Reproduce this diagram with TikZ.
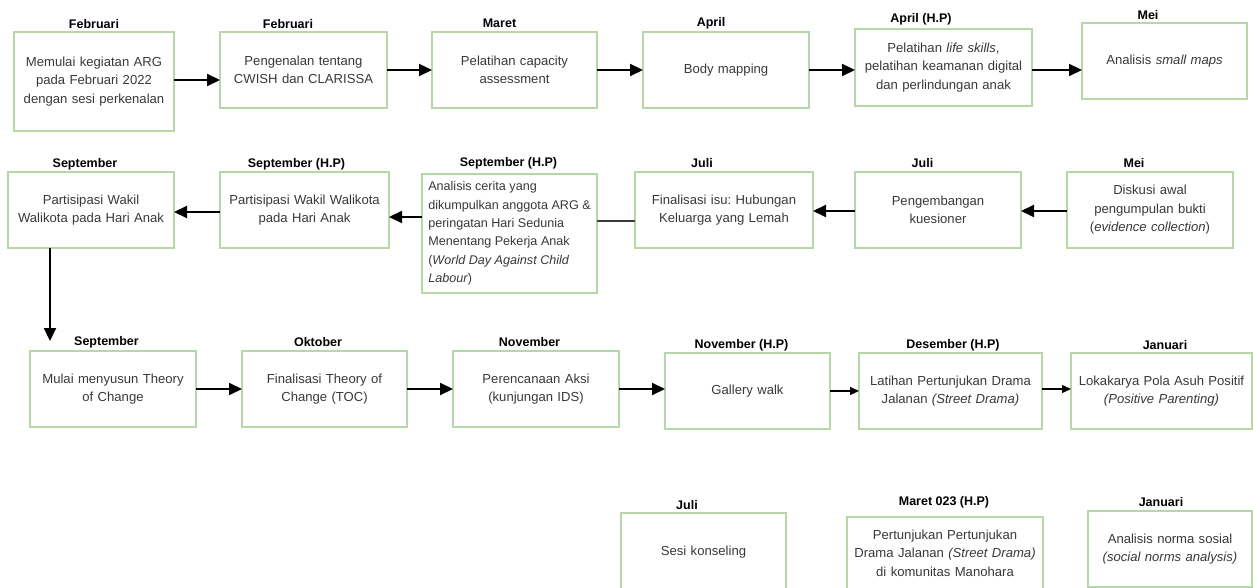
\documentclass[tikz,border=0pt]{standalone}
\usepackage{fontspec}
\setmainfont{Liberation Sans}
\usetikzlibrary{arrows.meta}
\definecolor{boxgreen}{HTML}{B6D7A8}
\definecolor{txtgray}{HTML}{383838}
\tikzset{
  box/.style={draw=boxgreen, line width=1.6pt, inner sep=0pt, outer sep=0pt,
    align=center, text=txtgray, font=\frenchspacing\fontsize{13.1}{18.5}\selectfont},
  lbl/.style={font=\bfseries\fontsize{12.5}{15}\selectfont, text=black, inner sep=0pt},
  arr/.style={-{Triangle[length=13pt,width=12pt]}, line width=2.1pt, draw=black},
  sarr/.style={-{Triangle[length=9pt,width=8pt]}, line width=1.3pt, draw=black},
  plain/.style={line width=1.3pt, draw=txtgray}
}
\begin{document}
\begin{tikzpicture}[x=1pt,y=-1pt]
\useasboundingbox (0,0) rectangle (1253,588);
\clip (0,0) rectangle (1253,588);
% Row 1
\node[box, minimum width=160pt, minimum height=99pt, text width=156pt] (b1) at (94,81.5) {Memulai kegiatan ARG\\pada Februari 2022\\dengan sesi perkenalan};
\node[box, minimum width=167pt, minimum height=76pt, text width=163pt] (b2) at (303.5,70) {Pengenalan tentang\\CWISH dan CLARISSA};
\node[box, minimum width=165pt, minimum height=76pt, text width=161pt] (b3) at (514.5,70) {Pelatihan capacity\\assessment};
\node[box, minimum width=166pt, minimum height=76pt, text width=162pt] (b4) at (726,70) {Body mapping};
\node[box, minimum width=177pt, minimum height=77pt, text width=177pt] (b5) at (943.5,67.5) {Pelatihan \textit{life skills},\\pelatihan keamanan digital\\dan perlindungan anak};
\node[box, minimum width=165pt, minimum height=76pt, text width=161pt] (b6) at (1164.5,61) {Analisis \textit{small maps}};
\node[lbl] (l1) at (94,24) {Februari};
\node[lbl] (l2) at (288,24) {Februari};
\node[lbl] (l3) at (499.5,23) {Maret};
\node[lbl] (l4) at (711,23) {April};
\node[lbl] (l5) at (921,19) {April (H.P)};
\node[lbl] (l6) at (1148,15) {Mei};
\draw[arr] (b1.east |- 0,80) -- (b2.west |- 0,80);
\draw[arr] (b2.east |- 0,70) -- (b3.west |- 0,70);
\draw[arr] (b3.east |- 0,70) -- (b4.west |- 0,70);
\draw[arr] (b4.east |- 0,70) -- (b5.west |- 0,70);
\draw[arr] (b5.east |- 0,70) -- (b6.west |- 0,70);
% Row 2
\node[box, minimum width=166pt, minimum height=76pt, text width=164pt] (s1) at (91,210) {Partisipasi Wakil\\Walikota pada Hari Anak};
\node[box, minimum width=169pt, minimum height=76pt, text width=169pt] (s2) at (304.5,210) {Partisipasi Wakil Walikota\\pada Hari Anak};
\node[box, minimum width=175pt, minimum height=119pt, align=left, font=\frenchspacing\fontsize{12.6}{18.4}\selectfont] (s3) at (509.5,233.5) {Analisis cerita yang\\dikumpulkan anggota ARG \&\\peringatan Hari Sedunia\\Menentang Pekerja Anak\\(\textit{World Day Against Child}\\\textit{Labour})};
\node[box, minimum width=178pt, minimum height=76pt, text width=174pt] (j1) at (724,210) {Finalisasi isu: Hubungan\\Keluarga yang Lemah};
\node[box, minimum width=166pt, minimum height=76pt, text width=162pt] (j2) at (938,210) {Pengembangan\\kuesioner};
\node[box, minimum width=166pt, minimum height=76pt, text width=162pt] (m) at (1150,210) {Diskusi awal\\pengumpulan bukti\\(\textit{evidence collection})};
\node[lbl] (ls1) at (85,164) {September};
\node[lbl] (ls2) at (296.5,164) {September (H.P)};
\node[lbl] (ls3) at (508.5,163) {September (H.P)};
\node[lbl] (lj1) at (702,163) {Juli};
\node[lbl] (lj2) at (922.5,163) {Juli};
\node[lbl] (lm) at (1134,163) {Mei};
\draw[arr] (m.west |- 0,211) -- (j2.east |- 0,211);
\draw[arr] (j2.west |- 0,211) -- (j1.east |- 0,211);
\draw[plain] (j1.west |- 0,221) -- (s3.east |- 0,221);
\draw[arr] (s3.west |- 0,217) -- (s2.east |- 0,217);
\draw[arr] (s2.west |- 0,212) -- (s1.east |- 0,212);
\coordinate (down) at (50,341);
\draw[arr] (s1.south -| down) -- (down);
% Row 3
\node[box, minimum width=166pt, minimum height=76pt, text width=162pt] (r1) at (113,389) {Mulai menyusun Theory\\of Change};
\node[box, minimum width=165pt, minimum height=76pt, text width=161pt] (r2) at (324.5,389) {Finalisasi Theory of\\Change (TOC)};
\node[box, minimum width=166pt, minimum height=76pt, text width=162pt] (r3) at (536,389) {Perencanaan Aksi\\(kunjungan IDS)};
\node[box, minimum width=165pt, minimum height=76pt, text width=161pt] (r4) at (747.5,391) {Gallery walk};
\node[box, minimum width=183pt, minimum height=76pt, text width=183pt] (r5) at (950.5,391) {Latihan Pertunjukan Drama\\Jalanan \textit{(Street Drama)}};
\node[box, minimum width=181pt, minimum height=76pt, text width=181pt] (r6) at (1161.5,391) {Lokakarya Pola Asuh Positif\\\textit{(Positive Parenting)}};
\node[lbl] (lr1) at (106.5,342) {September};
\node[lbl] (lr2) at (318,342) {Oktober};
\node[lbl] (lr3) at (529.5,342) {November};
\node[lbl] (lr4) at (741.5,345) {November (H.P)};
\node[lbl] (lr5) at (953,345) {Desember (H.P)};
\node[lbl] (lr6) at (1165,345) {Januari};
\draw[arr] (r1.east |- 0,389) -- (r2.west |- 0,389);
\draw[arr] (r2.east |- 0,389) -- (r3.west |- 0,389);
\draw[arr] (r3.east |- 0,389) -- (r4.west |- 0,389);
\draw[sarr] (r4.east |- 0,391) -- (r5.west |- 0,391);
\draw[sarr] (r5.east |- 0,389) -- (r6.west |- 0,389);
% Row 4
\node[box, minimum width=165pt, minimum height=78pt, text width=161pt] (q1) at (703.5,552) {Sesi konseling};
\node[box, minimum width=196pt, minimum height=72pt, text width=194pt] (q2) at (945,553) {Pertunjukan Pertunjukan\\Drama Jalanan \textit{(Street Drama)}\\di komunitas Manohara};
\node[box, minimum width=164pt, minimum height=76pt, text width=162pt] (q3) at (1170,549) {Analisis norma sosial\\\textit{(social norms analysis)}};
\node[lbl] (lq1) at (687,505) {Juli};
\node[lbl] (lq2) at (944,502) {Maret 023 (H.P)};
\node[lbl] (lq3) at (1161,502) {Januari};
\end{tikzpicture}
\end{document}
